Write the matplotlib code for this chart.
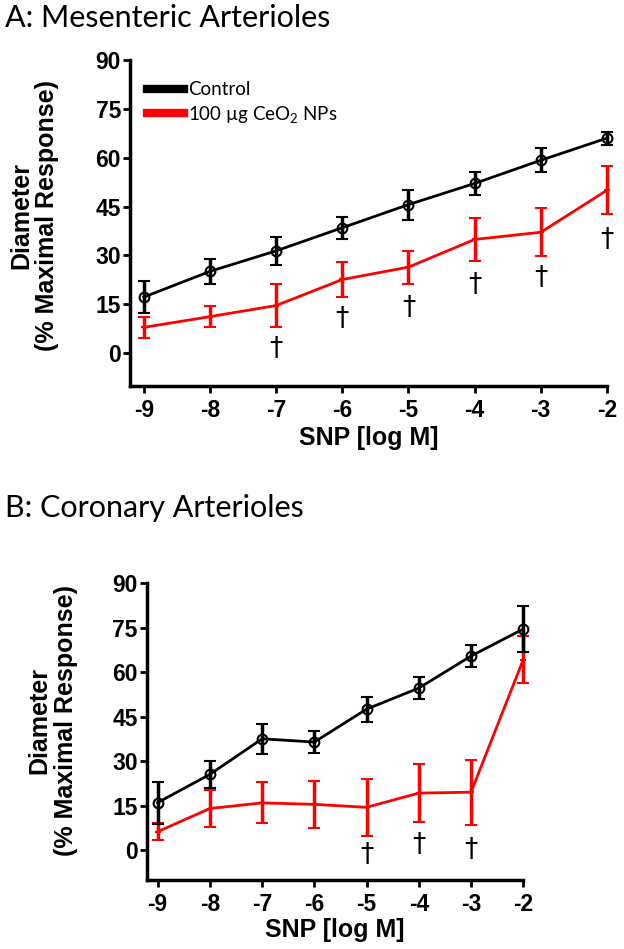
import matplotlib
matplotlib.use("Agg")
from matplotlib import pyplot as plt
from matplotlib.lines import Line2D

# SNP concentrations (log M)
snp = [-9, -8, -7, -6, -5, -4, -3, -2]

# A: mesenteric arterioles
mes_ctrl = [17.2, 25.1, 31.4, 38.5, 45.6, 52.1, 59.2, 66.0]
mes_ctrl_err = [5.0, 3.8, 4.3, 3.4, 4.6, 3.6, 3.7, 2.0]
mes_ceo2 = [7.9, 11.2, 14.6, 22.6, 26.4, 34.9, 37.1, 50.0]
mes_ceo2_err = [3.3, 3.3, 6.5, 5.3, 5.1, 6.6, 7.4, 7.4]
mes_dag_x = [-7, -6, -5, -4, -3, -2]
mes_dag_y = [1.3, 10.6, 13.7, 20.9, 23.2, 34.8]

# B: coronary arterioles
cor_ctrl = [16.1, 25.6, 37.6, 36.5, 47.6, 54.7, 65.5, 74.6]
cor_ctrl_err = [7.1, 4.6, 5.0, 3.6, 4.2, 3.8, 3.8, 7.6]
cor_ceo2 = [6.3, 14.1, 16.0, 15.5, 14.5, 19.3, 19.6, 64.3]
cor_ceo2_err = [2.9, 6.4, 6.9, 7.9, 9.6, 9.7, 11.0, 8.0]
cor_dag_x = [-5, -4, -3]
cor_dag_y = [-1.6, 1.8, 0.1]

labels = ["Control", "100 \u00b5g CeO$_2$ NPs"]

plt.rcParams['font.family'] = ['Liberation Sans', 'DejaVu Sans']
plt.rcParams['mathtext.fontset'] = 'custom'
plt.rcParams['mathtext.rm'] = 'Lato'
plt.rcParams['mathtext.default'] = 'rm'
plt.rcParams['axes.unicode_minus'] = False

fig = plt.figure(figsize=(6.24, 9.49), dpi=100)
axA = fig.add_axes([0.2083, 0.5936, 0.7644, 0.3432])
axB = fig.add_axes([0.2351, 0.0727, 0.6035, 0.3126])

labfont = dict(family="Liberation Sans", weight="bold", size=18)


def draw(ax, ctrl, ctrl_err, ceo2, ceo2_err, dx, dy, ylab_x, ylab_y, xlab_y):
    ax.errorbar(snp, ceo2, yerr=ceo2_err, color="#ff0000", lw=2, elinewidth=2.5,
                capsize=4, capthick=2.5, marker="+", ms=5, mew=1.5, clip_on=False, zorder=2)
    ax.errorbar(snp, ctrl, yerr=ctrl_err, color="black", lw=2, elinewidth=2.5,
                capsize=4, capthick=2.5, marker="o", ms=7, mfc="none", mew=1.5,
                clip_on=False, zorder=3)
    for x, y in zip(dx, dy):
        ax.text(x, y, "\u2020", ha="center", va="center", fontsize=19,
                family="DejaVu Sans", color="black")
    ax.set_xlim(-9.21, -2)
    ax.set_ylim(-10, 90)
    ax.set_xticks(snp)
    ax.set_yticks(range(0, 91, 15))
    for s in ["top", "right"]:
        ax.spines[s].set_visible(False)
    for s in ["left", "bottom"]:
        ax.spines[s].set_linewidth(2.5)
    ax.tick_params(width=2, length=5, labelsize=16.5)
    ax.tick_params(axis="x", pad=4.5)
    ax.tick_params(axis="y", pad=1.5)
    for t in ax.get_xticklabels() + ax.get_yticklabels():
        t.set_fontweight("bold")
    ax.set_xlabel("SNP [log M]", fontdict=labfont)
    ax.xaxis.label.set_va("center")
    ax.xaxis.set_label_coords(0.5, xlab_y)
    ax.set_ylabel("Diameter\n(% Maximal Response)", fontdict=labfont, linespacing=1.1)
    ax.yaxis.label.set_va("center")
    ax.yaxis.set_label_coords(ylab_x, ylab_y)


draw(axA, mes_ctrl, mes_ctrl_err, mes_ceo2, mes_ceo2_err, mes_dag_x, mes_dag_y,
     -0.201, 0.521, -0.161)
draw(axB, cor_ctrl, cor_ctrl_err, cor_ceo2, cor_ceo2_err, cor_dag_x, cor_dag_y,
     -0.250, 0.536, -0.169)

handles = [Line2D([], [], color="black", lw=6), Line2D([], [], color="#ff0000", lw=6)]
axA.legend(handles, labels, loc="upper left", bbox_to_anchor=(0.035, 0.935),
           frameon=False, prop=dict(family="Lato", size=13.5), handlelength=2.0,
           handletextpad=0.2, labelspacing=0.3, borderpad=0, borderaxespad=0)

fig.text(0.008, 0.981, "A: Mesenteric Arterioles", family="Lato", fontsize=22,
         ha="left", va="center")
fig.text(0.008, 0.4647, "B: Coronary Arterioles", family="Lato", fontsize=22,
         ha="left", va="center")

fig.savefig("out.png", dpi=100)
